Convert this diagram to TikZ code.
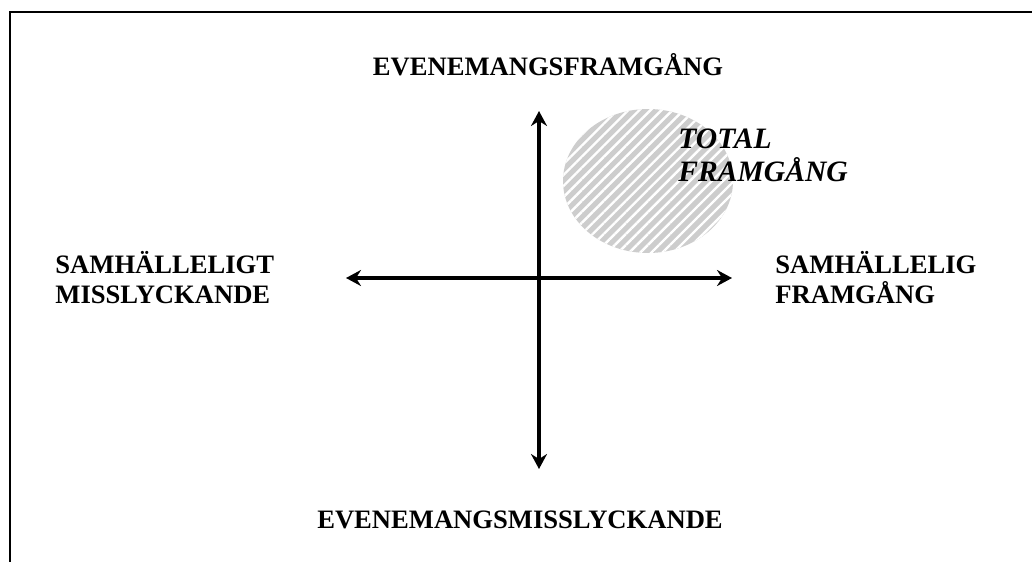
\documentclass[tikz,border=0pt]{standalone}
\usepackage{fontspec}
\setmainfont{Liberation Serif}
\definecolor{hatchgray}{HTML}{CDCDCD}
\usetikzlibrary{arrows.meta, positioning, patterns.meta}
\tikzset{
	axlabel/.style={font=\bfseries\fontsize{13.3}{15}\selectfont, inner sep=0pt},
	sidelabel/.style={axlabel, align=left, anchor=west},
	axarr/.style={{Stealth[length=7.5pt, width=8pt, inset=2.5pt]}-{Stealth[length=7.5pt, width=8pt, inset=2.5pt]}, line width=1.9pt},
	zone/.style={fill=hatchgray}
}

\begin{document}
\begin{tikzpicture}[x=0.5pt, y=-0.5pt]
	\useasboundingbox (0,0) rectangle (1032,562);
	\draw[line width=1.3pt] (1032,12) -- (10,12) -- (10,562);
	% hatched region
	\fill[zone] (648,181) ellipse [x radius=85, y radius=72];
	\fill[pattern={Lines[angle=45, distance=3.9pt, line width=1.2pt]}, pattern color=white]
		(648,181) ellipse [x radius=85, y radius=72];
	\node[font=\bfseries\itshape\fontsize{14.8}{16.5}\selectfont, inner sep=0pt, align=left, anchor=west] (total) at (678,155) {TOTAL\\FRAMGÅNG};
	% axes
	\coordinate (o) at (539,278);
	\coordinate (top) at (539,111);
	\coordinate (bot) at (539,469);
	\coordinate (lft) at (346,278);
	\coordinate (rgt) at (732,278);
	\draw[axarr] (bot) -- (top);
	\draw[axarr] (lft) -- (rgt);
	\node[axlabel] (evsucc) at (548,65) {EVENEMANGSFRAMGÅNG};
	\node[axlabel] (evfail) at (520,520) {EVENEMANGSMISSLYCKANDE};
	\node[sidelabel] (socfail) at (55,278) {SAMHÄLLELIGT\\MISSLYCKANDE};
	\node[sidelabel] (socsucc) at (775,278) {SAMHÄLLELIG\\FRAMGÅNG};
\end{tikzpicture}
\end{document}
